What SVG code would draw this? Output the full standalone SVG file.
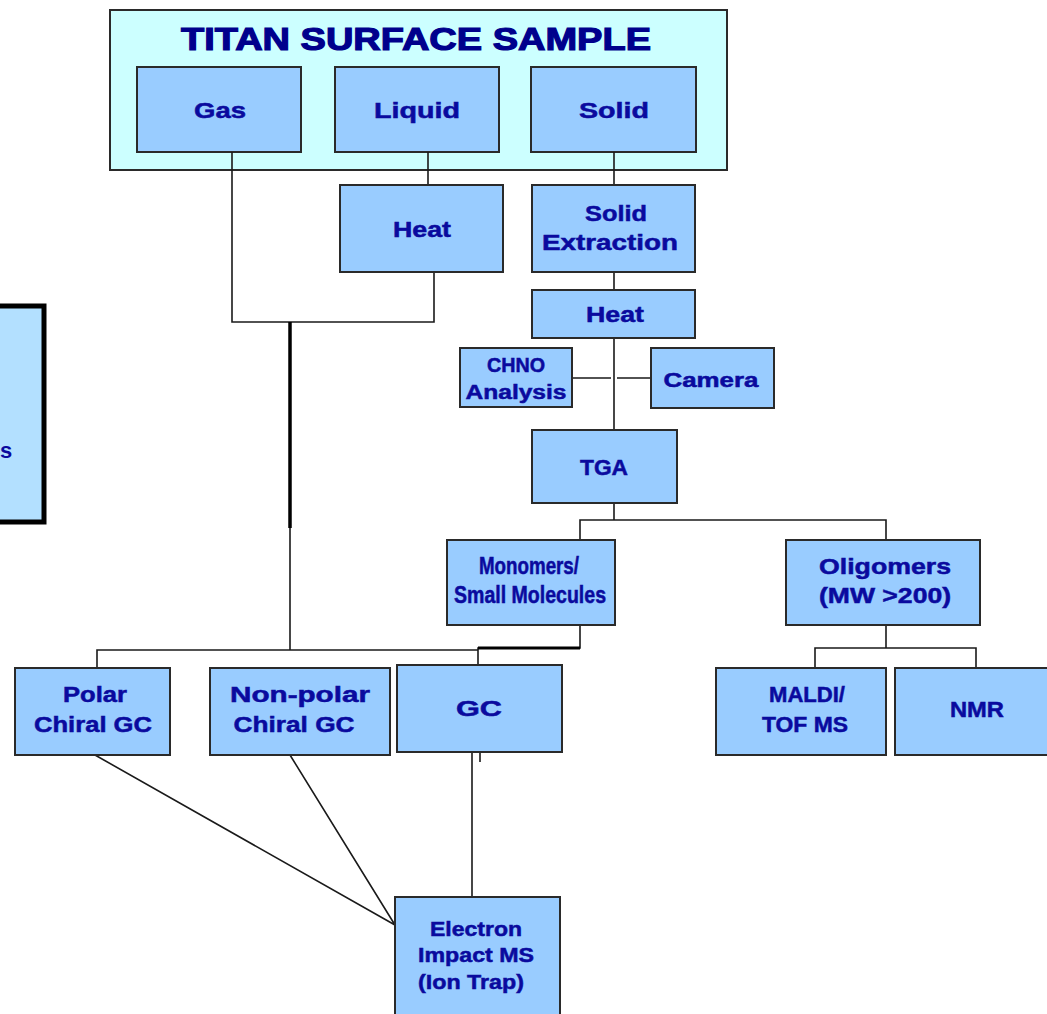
<svg xmlns="http://www.w3.org/2000/svg" width="1047" height="1014" viewBox="0 0 1047 1014">
<style>
.n{fill:#99ccff;stroke:#2a2a2a;stroke-width:2}
.t{font-family:"Liberation Sans",Arial,sans-serif;font-weight:bold;font-size:22px;fill:#0a0a9e;stroke:#0a0a9e;stroke-width:0.5;text-anchor:middle}
.s{font-size:20px}
.c{fill:none;stroke:#1a1a1a;stroke-width:1.6}
</style>
<rect width="1047" height="1014" fill="#ffffff"/>
<g id="left-box">
<rect x="-10" y="306" width="54" height="216" fill="#b3e0ff" stroke="#000" stroke-width="5"/>
<text x="0" y="458" style="font-family:'Liberation Sans',Arial,sans-serif;font-weight:bold;font-size:22px;fill:#0a0a9e">s</text>
</g>
<g id="sample">
<rect x="110" y="10" width="617" height="160" fill="#ccffff" stroke="#2a2a2a" stroke-width="2"/>
<text class="t" x="416" y="50" style="font-size:32px;fill:#00008c;stroke:#00008c;stroke-width:1.2" textLength="470" lengthAdjust="spacingAndGlyphs">TITAN SURFACE SAMPLE</text>
</g>
<g id="gas"><rect class="n" x="137" y="67" width="164" height="85"/><text class="t" x="220" y="118" textLength="52" lengthAdjust="spacingAndGlyphs">Gas</text></g>
<g id="liquid"><rect class="n" x="335" y="67" width="164" height="85"/><text class="t" x="417" y="118" textLength="86" lengthAdjust="spacingAndGlyphs">Liquid</text></g>
<g id="solid"><rect class="n" x="531" y="67" width="165" height="85"/><text class="t" x="614" y="118" textLength="70" lengthAdjust="spacingAndGlyphs">Solid</text></g>
<g id="connectors">
<path class="c" d="M232 152V322H434V272M428 152V185M614 152V185M614 272V290M614 338V430M572 378H611M617 378H651M614 503V520M580 540V520H886V540M580 625V648H478V665M886 625V648M815 668V648H976V668M97 668V650H478M290 650V528M472 752V897M480 752V762M95 755L395 925M290 755L395 925"/>
<path fill="none" stroke="#000" stroke-width="3.5" d="M290 322V528"/>
<path fill="none" stroke="#000" stroke-width="3" d="M478 648H580"/>
</g>
<g id="heat1"><rect class="n" x="340" y="185" width="163" height="87"/><text class="t" x="422" y="237" textLength="58" lengthAdjust="spacingAndGlyphs">Heat</text></g>
<g id="solid-extraction"><rect class="n" x="532" y="185" width="163" height="87"/><text class="t" x="616" y="221" textLength="62" lengthAdjust="spacingAndGlyphs">Solid</text><text class="t" x="610" y="250" textLength="136" lengthAdjust="spacingAndGlyphs">Extraction</text></g>
<g id="heat2"><rect class="n" x="532" y="290" width="163" height="48"/><text class="t" x="615" y="322" textLength="58" lengthAdjust="spacingAndGlyphs">Heat</text></g>
<g id="chno"><rect class="n" x="460" y="348" width="112" height="59"/><text class="t s" x="516" y="372" textLength="58" lengthAdjust="spacingAndGlyphs">CHNO</text><text class="t s" x="516" y="399" textLength="101" lengthAdjust="spacingAndGlyphs">Analysis</text></g>
<g id="camera"><rect class="n" x="651" y="348" width="123" height="60"/><text class="t s" x="711" y="387" textLength="95" lengthAdjust="spacingAndGlyphs">Camera</text></g>
<g id="tga"><rect class="n" x="532" y="430" width="145" height="73"/><text class="t" x="604" y="475" textLength="48" lengthAdjust="spacingAndGlyphs">TGA</text></g>
<g id="monomers"><rect class="n" x="447" y="540" width="168" height="85"/><text class="t" x="529" y="574" style="font-size:23px" textLength="100" lengthAdjust="spacingAndGlyphs">Monomers/</text><text class="t" x="530" y="603" style="font-size:23px" textLength="152" lengthAdjust="spacingAndGlyphs">Small Molecules</text></g>
<g id="oligomers"><rect class="n" x="786" y="540" width="194" height="85"/><text class="t" x="885" y="574" textLength="132" lengthAdjust="spacingAndGlyphs">Oligomers</text><text class="t" x="885" y="603" textLength="132" lengthAdjust="spacingAndGlyphs">(MW &gt;200)</text></g>
<g id="polar"><rect class="n" x="15" y="668" width="155" height="87"/><text class="t" x="95" y="702" textLength="64" lengthAdjust="spacingAndGlyphs">Polar</text><text class="t" x="93" y="732" textLength="118" lengthAdjust="spacingAndGlyphs">Chiral GC</text></g>
<g id="nonpolar"><rect class="n" x="210" y="668" width="180" height="87"/><text class="t" x="300" y="702" textLength="140" lengthAdjust="spacingAndGlyphs">Non-polar</text><text class="t" x="294" y="732" textLength="121" lengthAdjust="spacingAndGlyphs">Chiral GC</text></g>
<g id="gc"><rect class="n" x="397" y="665" width="165" height="87"/><text class="t" x="479" y="716" textLength="46" lengthAdjust="spacingAndGlyphs">GC</text></g>
<g id="maldi"><rect class="n" x="716" y="668" width="170" height="87"/><text class="t" x="807" y="702" textLength="76" lengthAdjust="spacingAndGlyphs">MALDI/</text><text class="t" x="805" y="732" textLength="86" lengthAdjust="spacingAndGlyphs">TOF MS</text></g>
<g id="nmr"><rect class="n" x="895" y="668" width="160" height="87"/><text class="t" x="977" y="717" textLength="54" lengthAdjust="spacingAndGlyphs">NMR</text></g>
<g id="ei-ms"><rect class="n" x="395" y="897" width="165" height="125"/><text class="t s" x="476" y="936" textLength="92" lengthAdjust="spacingAndGlyphs">Electron</text><text class="t s" x="476" y="962" textLength="116" lengthAdjust="spacingAndGlyphs">Impact MS</text><text class="t s" x="471" y="989" textLength="106" lengthAdjust="spacingAndGlyphs">(Ion Trap)</text></g>
</svg>
